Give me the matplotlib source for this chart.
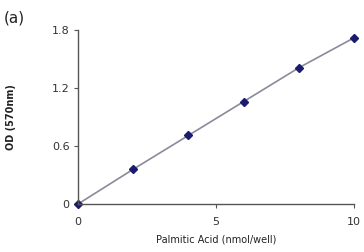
import matplotlib
matplotlib.use("Agg")
import matplotlib.pyplot as plt

x_vals = [0, 2, 4, 6, 8, 10]
od_vals = [0.0, 0.36, 0.71, 1.06, 1.41, 1.72]
x_ticks = [0, 5, 10]
y_ticks = [0, 0.6, 1.2, 1.8]
y_ticklabels = ["0", "0.6", "1.2", "1.8"]

fig = plt.figure(figsize=(3.64, 2.52), dpi=100)
ax = fig.add_axes([0.214, 0.19, 0.759, 0.691])
ax.plot(x_vals, od_vals, color="#8a8a9a", lw=1.2, zorder=1)
ax.plot(x_vals, od_vals, ls="none", marker="D", ms=4.5, color="#1a1a6e", zorder=2, clip_on=False)
ax.set_xlim(0, 10)
ax.set_ylim(0, 1.8)
ax.set_xticks(x_ticks)
ax.set_yticks(y_ticks)
ax.set_yticklabels(y_ticklabels)
for s in ["top", "right"]:
    ax.spines[s].set_visible(False)
for s in ["left", "bottom"]:
    ax.spines[s].set_color("#555555")
    ax.spines[s].set_linewidth(1.0)
ax.tick_params(axis="both", direction="out", length=3, width=0.8, color="#555555",
               labelsize=8, labelcolor="#333333", pad=3)
ax.tick_params(axis="x", pad=6)
ax.set_xlabel("Palmitic Acid (nmol/well)", fontsize=7, color="#222222", labelpad=6)
ax.set_ylabel("OD (570nm)", fontsize=7, fontweight="bold", color="#222222", labelpad=26)
fig.text(0.01, 0.93, "(a)", fontsize=11, color="#222222", va="center", ha="left")
fig.savefig("out.png", dpi=100)
